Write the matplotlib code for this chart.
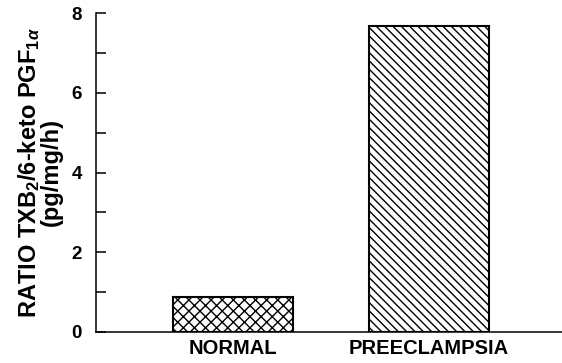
import matplotlib
matplotlib.use("Agg")
import matplotlib.pyplot as plt
from matplotlib.ticker import MultipleLocator

# --- data ---
groups = ["NORMAL", "PREECLAMPSIA"]
ratios = [0.87, 7.68]
hatches = ["xxx", "\\\\\\\\"]

plt.rcParams["font.family"] = ["Liberation Sans", "DejaVu Sans"]
plt.rcParams["hatch.linewidth"] = 1.0
plt.rcParams["mathtext.fontset"] = "custom"
plt.rcParams["mathtext.rm"] = "Liberation Sans:bold"
plt.rcParams["mathtext.it"] = "Liberation Sans:bold:italic"

fig = plt.figure(figsize=(5.62, 3.63), dpi=100)
ax = fig.add_axes([96 / 562, 31 / 363, 466 / 562, 319 / 363])

x = [0, 1]
for xi, val, h in zip(x, ratios, hatches):
    ax.bar(xi, val, width=0.61, color="white", edgecolor="black",
           linewidth=1.5, hatch=h)

ax.set_xlim(-0.70, 1.68)
ax.set_ylim(0, 8)
ax.set_xticks(x)
ax.set_xticklabels(groups, fontsize=14.5, fontweight="bold")
ax.tick_params(axis="x", length=0, pad=5)

ax.yaxis.set_major_locator(MultipleLocator(2))
ax.yaxis.set_minor_locator(MultipleLocator(1))
ax.tick_params(axis="y", which="both", direction="in", length=7, width=1.1,
               labelsize=13.5, pad=10)
for lbl in ax.get_yticklabels():
    lbl.set_fontweight("bold")

for side in ["top", "right"]:
    ax.spines[side].set_visible(False)
for side in ["left", "bottom"]:
    ax.spines[side].set_linewidth(1.1)

ax.set_ylabel("RATIO TXB$_2$/6-keto PGF$_{1\\alpha}$\n(pg/mg/h)",
              fontsize=17, fontweight="bold", labelpad=6, linespacing=0.9)

fig.savefig("out.png", dpi=100)
